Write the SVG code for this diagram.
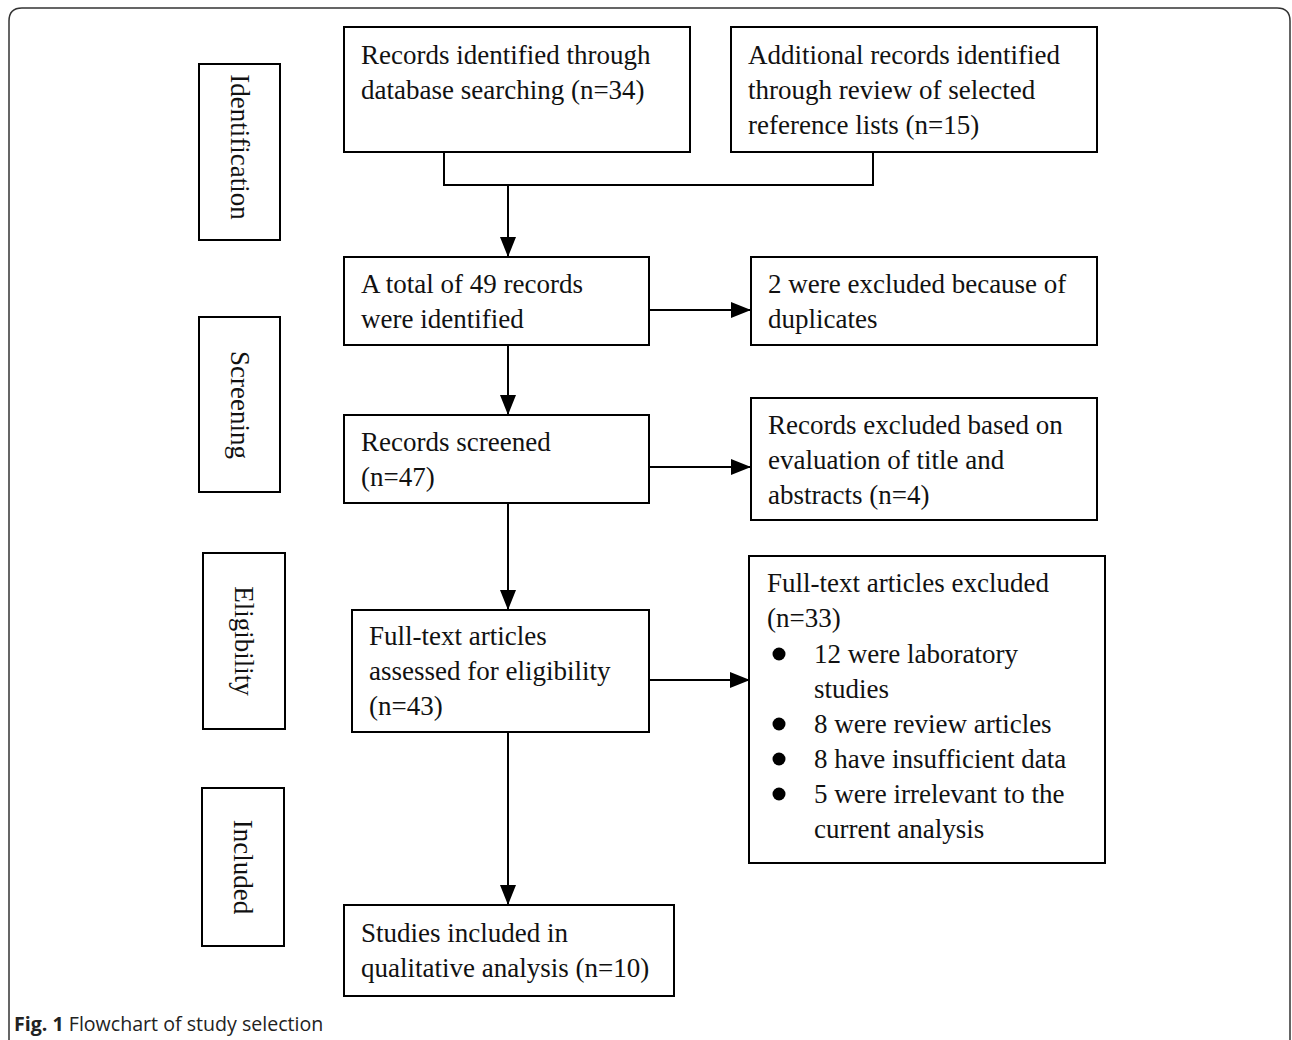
<svg xmlns="http://www.w3.org/2000/svg" width="1292" height="1040" viewBox="0 0 1292 1040">
<style>
.box{fill:#fff;stroke:#000;stroke-width:2}
.t{font-family:"Liberation Serif","Times New Roman",serif;font-size:27px;fill:#111}
.c{fill:none;stroke:#000;stroke-width:2}
.cap{font-family:"Open Sans","Liberation Sans",sans-serif;font-size:19.6px;fill:#222}
</style>
<defs>
<marker id="ahb" markerWidth="20" markerHeight="16" viewBox="0 0 20 16" refX="20" refY="8" orient="auto" markerUnits="userSpaceOnUse">
<path d="M0,0 L20,8 L0,16 Z" fill="#000"/>
</marker>
</defs>
<rect width="1292" height="1040" fill="#fff"/>
<path d="M9,1040 L9,21 Q9,8 22,8 L1277,8 Q1290,8 1290,21 L1290,1040" fill="none" stroke="#333" stroke-width="1.5"/>

<g id="connectors">
<path class="c" d="M444,152 L444,185 L873,185 L873,152"/>
<path class="c" d="M508,185 L508,257" marker-end="url(#ahb)"/>
<path class="c" d="M649,310 L751,310" marker-end="url(#ahb)"/>
<path class="c" d="M508,345 L508,415" marker-end="url(#ahb)"/>
<path class="c" d="M649,467 L751,467" marker-end="url(#ahb)"/>
<path class="c" d="M508,503 L508,610" marker-end="url(#ahb)"/>
<path class="c" d="M649,680 L750,680" marker-end="url(#ahb)"/>
<path class="c" d="M508,732 L508,905" marker-end="url(#ahb)"/>
</g>

<g id="stage-identification">
<rect class="box" x="199" y="64" width="81" height="176"/>
<text class="t" transform="translate(231,147) rotate(90)" text-anchor="middle">Identification</text>
</g>
<g id="stage-screening">
<rect class="box" x="199" y="317" width="81" height="175"/>
<text class="t" transform="translate(231,405) rotate(90)" text-anchor="middle">Screening</text>
</g>
<g id="stage-eligibility">
<rect class="box" x="203" y="553" width="82" height="176"/>
<text class="t" transform="translate(235,641) rotate(90)" text-anchor="middle">Eligibility</text>
</g>
<g id="stage-included">
<rect class="box" x="202" y="788" width="82" height="158"/>
<text class="t" transform="translate(234,867) rotate(90)" text-anchor="middle">Included</text>
</g>

<g id="n-database">
<rect class="box" x="344" y="27" width="346" height="125"/>
<text class="t" x="361" y="64">Records identified through</text>
<text class="t" x="361" y="99">database searching (n=34)</text>
</g>
<g id="n-additional">
<rect class="box" x="731" y="27" width="366" height="125"/>
<text class="t" x="748" y="64">Additional records identified</text>
<text class="t" x="748" y="99">through review of selected</text>
<text class="t" x="748" y="134">reference lists (n=15)</text>
</g>
<g id="n-total">
<rect class="box" x="344" y="257" width="305" height="88"/>
<text class="t" x="361" y="293">A total of 49 records</text>
<text class="t" x="361" y="328">were identified</text>
</g>
<g id="n-duplicates">
<rect class="box" x="751" y="257" width="346" height="88"/>
<text class="t" x="768" y="293">2 were excluded because of</text>
<text class="t" x="768" y="328">duplicates</text>
</g>
<g id="n-screened">
<rect class="box" x="344" y="415" width="305" height="88"/>
<text class="t" x="361" y="451">Records screened</text>
<text class="t" x="361" y="486">(n=47)</text>
</g>
<g id="n-excluded-title">
<rect class="box" x="751" y="398" width="346" height="122"/>
<text class="t" x="768" y="434">Records excluded based on</text>
<text class="t" x="768" y="469">evaluation of title and</text>
<text class="t" x="768" y="504">abstracts (n=4)</text>
</g>
<g id="n-fulltext">
<rect class="box" x="352" y="610" width="297" height="122"/>
<text class="t" x="369" y="645">Full-text articles</text>
<text class="t" x="369" y="680">assessed for eligibility</text>
<text class="t" x="369" y="715">(n=43)</text>
</g>
<g id="n-fulltext-excluded">
<rect class="box" x="749" y="556" width="356" height="307"/>
<text class="t" x="767" y="592">Full-text articles excluded</text>
<text class="t" x="767" y="627">(n=33)</text>
<circle cx="779" cy="654" r="6.5" fill="#000"/>
<text class="t" x="814" y="663">12 were laboratory</text>
<text class="t" x="814" y="698">studies</text>
<circle cx="779" cy="724" r="6.5" fill="#000"/>
<text class="t" x="814" y="733">8 were review articles</text>
<circle cx="779" cy="759" r="6.5" fill="#000"/>
<text class="t" x="814" y="768">8 have insufficient data</text>
<circle cx="779" cy="794" r="6.5" fill="#000"/>
<text class="t" x="814" y="803">5 were irrelevant to the</text>
<text class="t" x="814" y="838">current analysis</text>
</g>
<g id="n-included">
<rect class="box" x="344" y="905" width="330" height="91"/>
<text class="t" x="361" y="942">Studies included in</text>
<text class="t" x="361" y="977">qualitative analysis (n=10)</text>
</g>

<text class="cap" x="14" y="1031"><tspan font-weight="bold">Fig. 1</tspan> Flowchart of study selection</text>
</svg>
